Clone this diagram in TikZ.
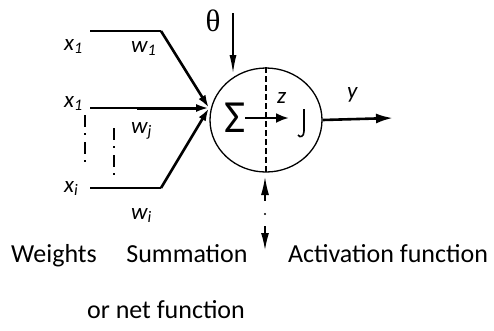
\documentclass[tikz,border=0pt]{standalone}
\usepackage{fontspec}
\setmainfont{Carlito}
\newfontfamily\serifgreek{Liberation Serif}
\usetikzlibrary{arrows.meta,shapes.geometric}
\begin{document}
\begin{tikzpicture}[x=1pt,y=-1pt,
  thinline/.style={line width=1.3pt},
  thickarrow/.style={line width=2.6pt,-{Latex[length=13pt,width=8pt]}},
  thinarrow/.style={line width=1.3pt,-{Latex[length=18pt,width=7pt]}},
  lbl/.style={font=\fontsize{23}{23}\selectfont\itshape,inner sep=0pt,anchor=base west},
  captxt/.style={font=\fontsize{26}{26}\selectfont,inner sep=0pt,anchor=base},
  dashdot/.style={line width=1.8pt,dash pattern=on 12pt off 6pt on 2pt off 7pt}]
\useasboundingbox (0,0) rectangle (494,330);
% neuron
\node[draw,thinline,ellipse,minimum width=112pt,minimum height=104pt,inner sep=0pt] (n) at (266,120) {};
\coordinate (nin) at (209,108);
% inputs
\coordinate (a1) at (90,31);  \coordinate (b1) at (161,31);
\coordinate (a2) at (90,108); \coordinate (b2) at (137,108);
\coordinate (a3) at (90,188); \coordinate (b3) at (161,188);
\draw[thinline] (a1) -- (b1);
\draw[thickarrow] (b1) -- (nin);
\draw[thinline] (a2) -- (b2);
\draw[thickarrow,line width=3pt] (b2) -- (nin);
\draw[thinline] (a3) -- (b3);
\draw[thickarrow] (b3) -- (nin);
\node[lbl] (x1) at (64,50) {x\textsubscript{1}};
\node[lbl] (x2) at (64,107) {x\textsubscript{1}};
\node[lbl] (x3) at (64,192) {x\textsubscript{i}};
\node[lbl] (w1) at (131,52) {w\textsubscript{1}};
\node[lbl] (wj) at (131,133) {w\textsubscript{j}};
\node[lbl] (wi) at (131,219) {w\textsubscript{i}};
% vertical dash-dot lines
\coordinate (d1a) at (85,115); \coordinate (d1b) at (85,165);
\coordinate (d2a) at (114,128); \coordinate (d2b) at (114,177);
\draw[dashdot] (d1a) -- (d1b);
\draw[dashdot] (d2a) -- (d2b);
% theta
\node[font=\serifgreek\fontsize{31}{31}\selectfont,inner sep=0pt] (th) at (213,21) {θ};
\coordinate (t0) at (233,13);
\coordinate (t1) at (233,73);
\draw[thinarrow] (t0) -- (t1);
% dashed divider
\draw[thinline,dash pattern=on 6pt off 3pt] (n.north) -- (n.south);
% sigma and z
\node[font=\fontsize{46}{46}\selectfont,inner sep=0pt] (sig) at (235,117.5) {Σ};
\coordinate (z0) at (245,118); \coordinate (z1) at (289,118);
\draw[line width=2.6pt,-{Latex[length=13pt,width=10pt]}] (z0) -- (z1);
\node[lbl] (z) at (277,103) {z};
% activation glyph
\draw[line width=1.6pt] (304,109) -- (304,131) .. controls (304,137) and (300,138) .. (298,135);
% output
\coordinate (y1) at (393,118);
\draw[line width=2.6pt,-{Latex[length=17pt,width=10pt]}] (n.east) -- (y1);
\node[lbl] (y) at (347,98) {y};
% bottom double arrow
\coordinate (u0) at (265,177); \coordinate (u1) at (265,250);
\coordinate (um1) at (265,201); \coordinate (um2) at (265,226);
\coordinate (dot) at (265,214);
\draw[thinline,{Latex[length=18pt,width=8pt]}-] (u0) -- (um1);
\fill (dot) circle (1.2pt);
\draw[thinline,-{Latex[length=17pt,width=8pt]}] (um2) -- (u1);
% captions
\node[captxt] (cw) at (54,262) {Weights};
\node[captxt] (cs) at (187,262) {Summation};
\node[captxt] (ca) at (388,262) {Activation function};
\node[captxt] (co) at (166,318) {or net function};
\end{tikzpicture}
\end{document}
